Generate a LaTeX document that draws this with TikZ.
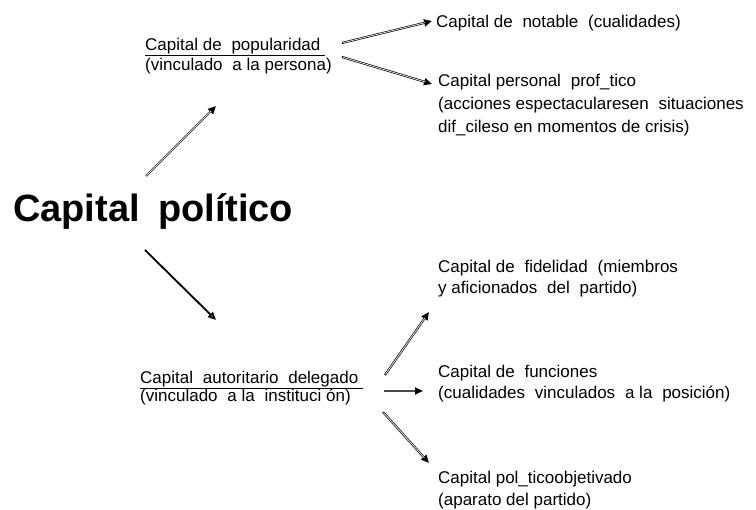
\documentclass[tikz,border=0pt]{standalone}
\usepackage{fontspec}
\setmainfont{Liberation Sans}
\usetikzlibrary{arrows.meta}
\newcommand{\fs}[2]{\fontsize{#1}{#2}\selectfont\lineskiplimit=-20pt\lineskip=0pt}
\newcommand{\xs}{\hspace{0.3em}}
\tikzset{
  lbl/.style={anchor=north west, inner sep=0pt, align=left, font=\fs{17}{21}},
  dbl/.style={draw=black, line width=2.1pt, -{Triangle[length=8pt,width=7pt]},
              postaction={draw=gray!20, line width=0.8pt, arrows=-, shorten >=7pt, shorten <=0.7pt}},
  grey arrow/.style={draw=gray!60!black, line width=2.2pt, -{Triangle[length=8pt,width=7pt,fill=black,color=black]}},
  solid arrow/.style={draw=black, line width=1.8pt, -{Triangle[length=8pt,width=7pt,open,fill=gray!40]}},
}
\begin{document}
\begin{tikzpicture}[x=1pt,y=-1pt]
\useasboundingbox (0,0) rectangle (756,510);
% main
\node[anchor=base west, inner sep=0pt, font=\fontsize{38}{44}\bfseries] (main) at (13,222) {Capital\hspace{0.2em} político};
% second level
\node[lbl, font=\fs{17}{20}] (pop) at (145,38) {\underline{Capital de\xs\ popularidad\hspace{0.25em}}\\(vinculado\xs\ a la persona)};
\node[lbl, font=\fs{17}{18.5}] (aut) at (140,370.5) {\underline{Capital\xs\ autoritario\xs\ delegado\hspace{0.25em}}\\(vinculado\xs\ a la\xs\ instituci ón)};
% third level
\node[lbl] (nota) at (436,15) {Capital de\xs\ notable\xs\ (cualidades)};
\node[lbl, font=\fs{17}{23}] (pers) at (438,74) {Capital personal\xs\ prof\_tico\\(acciones espectacularesen\xs\ situaciones\\dif\_cileso en momentos de crisis)};
\node[lbl] (fide) at (438,260) {Capital de\xs\ fidelidad\xs\ (miembros\\y aficionados\xs\ del\xs\ partido)};
\node[lbl] (func) at (438,365) {Capital de\xs\ funciones\\(cualidades\xs\ vinculados\xs\ a la\xs\ posición)};
\node[lbl, font=\fs{17}{22}] (obje) at (438,471) {Capital pol\_ticoobjetivado\\(aparato del partido)};
% arrow endpoints
\coordinate (m1) at (146,176);
\coordinate (m2) at (216,106);
\coordinate (m3) at (145,250);
\coordinate (m4) at (216,320);
\coordinate (p0a) at (342,43);
\coordinate (p1) at (432,21);
\coordinate (p0b) at (342,57);
\coordinate (p2) at (432,84);
\coordinate (a0a) at (385,375);
\coordinate (a1) at (429,312);
\coordinate (a0b) at (384,391);
\coordinate (a2) at (423,391);
\coordinate (a0c) at (383,412);
\coordinate (a3) at (429,463);
% arrows
\draw[dbl] (m1) -- (m2);
\draw[solid arrow] (m3) -- (m4);
\draw[dbl] (p0a) -- (p1);
\draw[dbl] (p0b) -- (p2);
\draw[dbl] (a0a) -- (a1);
\draw[grey arrow] (a0b) -- (a2);
\draw[dbl] (a0c) -- (a3);
\end{tikzpicture}
\end{document}
